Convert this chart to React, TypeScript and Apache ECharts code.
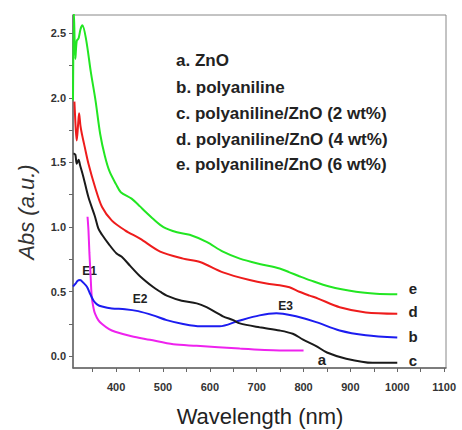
import React, { useEffect, useRef } from "react";
import * as echarts from "echarts";

// Wavelength (nm) vs absorbance (a.u.) pairs
const curveA: [number, number][] = [
  [339, 1.08], [341, 0.975], [343, 0.8], [345, 0.665], [348, 0.46], [352, 0.37], [355, 0.33],
  [362, 0.28], [370, 0.25], [385, 0.21], [398, 0.19], [433, 0.155], [472, 0.128], [522, 0.093],
  [572, 0.082], [664, 0.06], [749, 0.046], [800, 0.045],
];
const curveB: [number, number][] = [
  [308, 0.54], [313, 0.56], [318, 0.585], [323, 0.59], [330, 0.57], [338, 0.536], [345, 0.48],
  [352, 0.43], [360, 0.4], [370, 0.385], [391, 0.37], [419, 0.365], [447, 0.35], [479, 0.317],
  [508, 0.28], [543, 0.25], [580, 0.232], [621, 0.232], [660, 0.273], [706, 0.317], [742, 0.333],
  [756, 0.33], [784, 0.31], [827, 0.265], [877, 0.2], [933, 0.163], [1000, 0.145],
];
const curveC: [number, number][] = [
  [309, 1.57], [313, 1.56], [316, 1.49], [320, 1.52], [323, 1.48], [330, 1.39], [341, 1.23],
  [355, 1.08], [362, 0.99], [370, 0.94], [384, 0.87], [401, 0.795], [412, 0.77], [430, 0.7],
  [451, 0.62], [479, 0.536], [494, 0.5], [508, 0.47], [540, 0.43], [572, 0.41], [593, 0.38],
  [628, 0.31], [650, 0.28], [664, 0.255], [706, 0.225], [749, 0.2], [777, 0.175], [799, 0.13],
  [827, 0.08], [850, 0.03], [891, -0.018], [947, -0.05], [1000, -0.05],
];
const curveD: [number, number][] = [
  [311, 1.97], [314, 1.75], [316, 1.67], [319, 1.8], [321, 1.88], [324, 1.78], [327, 1.72],
  [333, 1.62], [341, 1.49], [355, 1.31], [370, 1.155], [391, 1.05], [419, 0.975], [451, 0.91],
  [494, 0.81], [543, 0.756], [579, 0.73], [628, 0.65], [685, 0.59], [721, 0.563], [749, 0.55],
  [770, 0.535], [791, 0.5], [813, 0.47], [831, 0.447], [877, 0.38], [933, 0.34], [1000, 0.33],
];
const curveE: [number, number][] = [
  [308, 1.98], [310, 2.66], [313, 2.3], [316, 2.44], [320, 2.46], [324, 2.53], [328, 2.56],
  [336, 2.45], [346, 2.2], [356, 1.98], [366, 1.72], [376, 1.55], [386, 1.43], [400, 1.33],
  [410, 1.27], [433, 1.22], [451, 1.16], [462, 1.12], [480, 1.06], [501, 1.0], [530, 0.96],
  [557, 0.94], [593, 0.885], [628, 0.81], [664, 0.756], [706, 0.715], [749, 0.68], [770, 0.65],
  [791, 0.62], [813, 0.59], [855, 0.54], [912, 0.5], [955, 0.485], [1000, 0.48],
];

const xTicks = [350, 400, 450, 500, 550, 600, 650, 700, 750, 800, 850, 900, 950, 1000, 1050, 1100];
const xLabels = [400, 500, 600, 700, 800, 900, 1000, 1100];
const yTicks = [0, 0.25, 0.5, 0.75, 1.0, 1.25, 1.5, 1.75, 2.0, 2.25, 2.5];
const yLabels = [0, 0.5, 1.0, 1.5, 2.0, 2.5];

const legendLines = [
  "a. ZnO",
  "b. polyaniline",
  "c. polyaniline/ZnO (2 wt%)",
  "d. polyaniline/ZnO (4 wt%)",
  "e. polyaniline/ZnO (6 wt%)",
];

const COLORS = {
  a: "#ee22ee",
  b: "#1c1cf0",
  c: "#1a1a1a",
  d: "#ee1c1c",
  e: "#22e622",
};

export default function App() {
  const ref = useRef<HTMLDivElement>(null);
  useEffect(() => {
    document.body.style.margin = "0";
    if (!ref.current) return;
    const chart = echarts.init(ref.current, null, { renderer: "svg" });
    const tickFont = {
      fontFamily: "'Liberation Sans Narrow', 'Liberation Sans', Arial, sans-serif",
      fontSize: 11,
      fontWeight: "bold" as const,
      color: "#333",
    };
    const mkLine = (name: string, data: [number, number][], color: string) => ({
      type: "line" as const,
      name,
      data,
      showSymbol: false,
      smooth: 0.3,
      clip: true,
      lineStyle: { color, width: 2 },
      itemStyle: { color },
    });
    const letter = (t: string, x: number, y: number, size = 15) => ({
      type: "text" as const,
      x,
      y,
      style: {
        text: t,
        fontFamily: "'Liberation Sans', Arial, sans-serif",
        fontWeight: "bold",
        fontSize: size,
        fill: "#222",
        align: "center",
        verticalAlign: "middle",
      },
    });
    chart.setOption({
      animation: false,
      backgroundColor: "#fff",
      grid: {
        left: 73,
        right: 16,
        top: 15,
        bottom: 62,
        show: true,
        borderColor: "#888",
        borderWidth: 1,
        backgroundColor: "transparent",
      },
      xAxis: {
        type: "value",
        min: 308,
        max: 1104,
        axisLine: { show: true, onZero: false, lineStyle: { color: "#666", width: 1.5 } },
        axisTick: { show: true, inside: false, length: 4, customValues: xTicks, lineStyle: { color: "#666" } },
        axisLabel: { customValues: xLabels, margin: 13, formatter: (v: number) => String(v), ...tickFont },
        splitLine: { show: false },
      },
      yAxis: {
        type: "value",
        min: -0.09,
        max: 2.64,
        axisLine: { show: true, onZero: false, lineStyle: { color: "#666", width: 1.5 } },
        axisTick: { show: true, inside: false, length: 4, customValues: yTicks, lineStyle: { color: "#666" } },
        axisLabel: {
          customValues: yLabels,
          margin: 7,
          formatter: (v: number) => v.toFixed(1),
          ...tickFont,
        },
        splitLine: { show: false },
      },
      series: [
        mkLine("a", curveA, COLORS.a),
        mkLine("b", curveB, COLORS.b),
        mkLine("c", curveC, COLORS.c),
        mkLine("d", curveD, COLORS.d),
        mkLine("e", curveE, COLORS.e),
      ],
      graphic: [
        {
          type: "text",
          x: 26,
          y: 212,
          rotation: Math.PI / 2,
          style: {
            text: "Abs (a.u.)",
            fontFamily: "'Liberation Sans', Arial, sans-serif",
            fontStyle: "italic",
            fontSize: 22,
            fill: "#333",
            align: "center",
            verticalAlign: "middle",
          },
        },
        {
          type: "text",
          x: 260,
          y: 416,
          style: {
            text: "Wavelength (nm)",
            fontFamily: "'Liberation Sans', Arial, sans-serif",
            fontSize: 22,
            fill: "#222",
            align: "center",
            verticalAlign: "middle",
          },
        },
        ...legendLines.map((t, i) => ({
          type: "text" as const,
          x: 176,
          y: [60, 87, 113, 139, 164][i],
          style: {
            text: t,
            fontFamily: "'Liberation Sans', Arial, sans-serif",
            fontWeight: "bold",
            fontSize: 17,
            fill: "#222",
            align: "left",
            verticalAlign: "middle",
          },
        })),
        letter("e", 413, 288),
        letter("d", 413, 311),
        letter("b", 413, 336),
        letter("c", 413, 360),
        letter("a", 322, 359),
        letter("E1", 89.5, 271, 12),
        letter("E2", 140, 298.5, 12),
        letter("E3", 285.5, 306, 12),
      ],
    });
    return () => chart.dispose();
  }, []);
  return <div ref={ref} style={{ width: 462, height: 430 }} />;
}
